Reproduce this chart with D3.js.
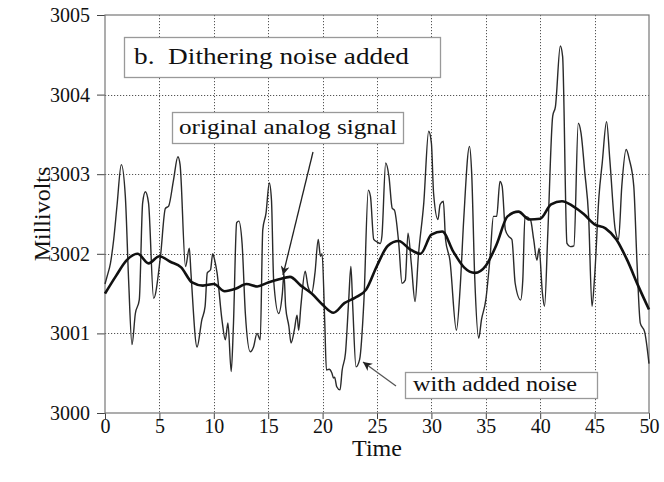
<!DOCTYPE html>
<html><head><meta charset="utf-8">
<script src="https://cdn.jsdelivr.net/npm/d3@7"></script>
<style>body{margin:0;background:#fff}svg{display:block}</style>
</head><body>
<svg id="c" width="664" height="482"></svg>
<script>
// ---- data ----
const xTicks = [0,5,10,15,20,25,30,35,40,45,50];
const yTicks = [3000,3001,3002,3003,3004,3005];

const smoothTime = [0,1,2,3,4,5,6,7,8,9,10,11,12,13,14,15,16,17,18,19,20,21,22,23,24,25,26,27,28,29,30,31,32,33,34,35,36,37,38,39,40,41,42,43,44,45,46,47,48,49,50];
const smoothValue = [3001.50,3001.72,3001.92,3002.00,3001.88,3001.97,3001.90,3001.83,3001.64,3001.60,3001.62,3001.53,3001.56,3001.62,3001.59,3001.64,3001.68,3001.71,3001.60,3001.50,3001.36,3001.26,3001.38,3001.45,3001.55,3001.85,3002.10,3002.16,3002.06,3002.00,3002.24,3002.28,3002.03,3001.83,3001.76,3001.85,3002.12,3002.47,3002.53,3002.43,3002.44,3002.62,3002.66,3002.60,3002.50,3002.37,3002.32,3002.18,3001.92,3001.60,3001.30];

const noisyTime = [0.0,0.2,0.5,0.8,1.1,1.5,1.87,2.17,2.48,2.79,3.15,3.46,3.71,4.0,4.47,5.1,5.55,5.85,6.3,6.7,6.9,7.4,7.75,7.9,8.46,8.9,9.2,9.4,9.7,9.9,10.08,10.3,10.75,11.06,11.3,11.6,11.8,12.1,12.3,12.6,12.9,13.35,13.65,13.97,14.27,14.5,14.8,15.1,15.3,15.5,15.96,16.3,16.45,16.6,16.9,17.1,17.4,17.65,17.8,18.0,18.4,18.66,19.0,19.3,19.6,19.8,19.95,20.2,20.35,20.6,20.86,21.0,21.1,21.3,21.6,21.8,22.1,22.4,22.6,22.77,23.07,23.4,23.8,24.2,24.4,24.7,25.0,25.3,25.45,25.8,26.1,26.4,26.6,27.0,27.3,27.6,27.85,28.15,28.5,28.8,29.3,29.75,30.0,30.2,30.6,30.8,31.1,31.3,31.7,32.3,32.65,32.97,33.5,33.7,33.98,34.35,34.6,35.0,35.4,35.7,36.0,36.3,36.5,36.8,37.1,37.4,37.7,38.2,38.4,38.6,39.1,39.4,39.7,39.9,40.2,40.4,40.7,41.15,41.4,41.85,42.06,42.46,42.77,43.1,43.5,43.75,44.1,44.45,44.76,45.0,45.4,45.7,46.1,46.4,46.9,47.2,47.5,47.9,48.2,48.6,48.9,49.2,49.6,50.0];
const noisyValue = [3001.62,3001.72,3001.88,3002.18,3002.60,3003.12,3002.72,3001.67,3000.86,3001.25,3001.42,3002.64,3002.78,3002.64,3001.44,3001.97,3002.57,3002.60,3002.93,3003.22,3003.12,3001.84,3002.07,3001.76,3000.83,3001.17,3001.34,3001.76,3001.80,3002.00,3001.92,3001.76,3001.17,3000.92,3001.13,3000.52,3001.09,3002.39,3002.41,3002.13,3001.25,3000.77,3000.83,3001.00,3000.92,3002.30,3002.51,3002.89,3002.68,3001.67,3001.25,3001.50,3001.75,3001.34,3001.09,3000.88,3001.04,3001.23,3001.04,3001.34,3001.78,3001.59,3001.51,3001.76,3002.18,3001.97,3002.00,3001.13,3000.54,3000.55,3000.50,3000.44,3000.45,3000.33,3000.29,3000.54,3000.75,3001.42,3001.84,3001.34,3000.58,3000.67,3001.42,3002.80,3002.72,3002.18,3002.15,3002.13,3002.22,3003.14,3002.97,3002.57,3002.55,3002.13,3001.63,3001.67,3002.26,3001.88,3001.40,3001.97,3002.64,3003.54,3003.39,3002.76,3002.43,3002.62,3002.66,3002.18,3001.92,3001.04,3001.59,3002.43,3003.35,3003.02,3001.71,3000.94,3001.17,3001.42,3001.97,3002.47,3002.47,3002.91,3002.85,3002.30,3002.22,3002.18,3001.63,3001.42,3001.67,3002.47,3002.43,3002.18,3001.92,3002.07,3001.51,3001.34,3002.26,3003.73,3003.85,3004.61,3004.48,3002.13,3002.09,3002.10,3003.64,3003.52,3003.02,3002.47,3001.34,3001.71,3002.72,3003.14,3003.66,3003.18,3002.30,3002.18,3002.85,3003.31,3003.18,3002.85,3001.88,3001.13,3001.02,3000.62];

const titleText = "b.  Dithering noise added";
const smoothLabel = "original analog signal";
const noisyLabel = "with added noise";
const xTitle = "Time";
const yTitle = "Millivolts";

// ---- layout ----
const W = 664, H = 482;
const m = {left:105, right:15, top:15, bottom:69};
const svg = d3.select("#c");
const font = "'Liberation Serif','Times New Roman',serif";

const x = d3.scaleLinear().domain([0,50]).range([m.left, W - m.right]);
const y = d3.scaleLinear().domain([3000,3005]).range([H - m.bottom, m.top]);

// grid
const grid = svg.append("g").attr("stroke","#555").attr("stroke-width",1).attr("stroke-dasharray","1.2,1.8");
grid.selectAll("line.v").data(xTicks.slice(1,-1)).join("line")
  .attr("x1",d=>Math.round(x(d))+0.5).attr("x2",d=>Math.round(x(d))+0.5)
  .attr("y1",y(3005)).attr("y2",y(3000));
grid.selectAll("line.h").data(yTicks.slice(1,-1)).join("line")
  .attr("x1",x(0)).attr("x2",x(50))
  .attr("y1",d=>Math.round(y(d))+0.5).attr("y2",d=>Math.round(y(d))+0.5);

// axes
const yAxis = svg.append("g").attr("transform",`translate(${x(0)},0)`)
  .call(d3.axisLeft(y).tickValues(yTicks).tickSize(8).tickPadding(7).tickFormat(d3.format("d")));
const xAxis = svg.append("g").attr("transform",`translate(0,${y(3000)})`)
  .call(d3.axisBottom(x).tickValues(xTicks).tickSize(6).tickPadding(0).tickFormat(d3.format("d")));
[yAxis,xAxis].forEach(a=>{
  a.select(".domain").remove();
  a.selectAll(".tick line").attr("stroke","#444");
  a.selectAll(".tick text").attr("font-family",font).attr("font-size",20).attr("fill","#111");
});

// frame
svg.append("rect").attr("x",x(0)).attr("y",y(3005))
  .attr("width",x(50)-x(0)).attr("height",y(3000)-y(3005))
  .attr("fill","none").attr("stroke","#777").attr("stroke-width",1.2);

// lines
const noisyLine = d3.line().x((d,i)=>x(noisyTime[i])).y(d=>y(d)).curve(d3.curveMonotoneX);
svg.append("path").datum(noisyValue).attr("d",noisyLine)
  .attr("fill","none").attr("stroke","#2a2a2a").attr("stroke-width",1.4).attr("stroke-linejoin","round");
const smoothLine = d3.line().x((d,i)=>x(smoothTime[i])).y(d=>y(d)).curve(d3.curveMonotoneX);
svg.append("path").datum(smoothValue).attr("d",smoothLine)
  .attr("fill","none").attr("stroke","#111").attr("stroke-width",2.6).attr("stroke-linejoin","round");

// arrow markers
const defs = svg.append("defs");
defs.append("marker").attr("id","ah").attr("viewBox","0 0 10 10").attr("refX",10).attr("refY",5)
  .attr("markerWidth",14).attr("markerHeight",9).attr("markerUnits","userSpaceOnUse").attr("orient","auto")
  .append("path").attr("d","M0,0 L10,5 L0,10 L3,5 Z").attr("fill","#222");

// annotation boxes
function box(x0,y0,x1,y1,txt,tx,ty,fs,tl){
  svg.append("rect").attr("x",x0+0.5).attr("y",y0+0.5).attr("width",x1-x0).attr("height",y1-y0)
    .attr("fill","#fff").attr("stroke","#999").attr("stroke-width",1.3);
  svg.append("text").attr("x",tx).attr("y",ty).attr("font-family",font).attr("font-size",fs)
    .attr("fill","#111").attr("textLength",tl).attr("lengthAdjust","spacingAndGlyphs")
    .attr("xml:space","preserve").style("white-space","pre").text(txt);
}
box(124,37,440,77,titleText,134,64,24,275);
box(172,112,403,143,smoothLabel,179,134,21,218);
box(405,372,597,398,noisyLabel,413,391,21,164);

// arrows
svg.append("line").attr("x1",313).attr("y1",152).attr("x2",283).attr("y2",275)
  .attr("stroke","#222").attr("stroke-width",1.3).attr("marker-end","url(#ah)");
svg.append("line").attr("x1",396).attr("y1",386).attr("x2",363).attr("y2",362)
  .attr("stroke","#555").attr("stroke-width",1.2).attr("marker-end","url(#ah)");

// axis titles
svg.append("text").attr("x",(x(0)+x(50))/2).attr("y",456).attr("text-anchor","middle")
  .attr("font-family",font).attr("font-size",24).attr("fill","#111").text(xTitle);
svg.append("text").attr("transform",`translate(50,${(y(3000)+y(3005))/2}) rotate(-90)`)
  .attr("text-anchor","middle").attr("font-family",font).attr("font-size",24).attr("fill","#111").text(yTitle);
</script>
</body></html>
